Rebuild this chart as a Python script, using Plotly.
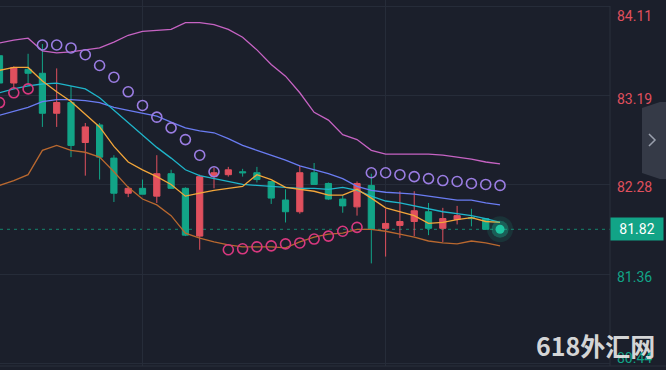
import plotly.graph_objects as go

# ---------------- data ----------------
bar_index = list(range(36))

opens = [83.60, 83.32, 83.46, 83.42, 83.01, 83.12, 82.71, 82.89, 82.55, 82.19,
         82.24, 82.16, 82.39, 82.24, 81.75, 82.36, 82.38, 82.41, 82.40, 82.31,
         82.12, 82.00, 82.40, 82.29, 82.13, 82.05, 82.27, 81.83, 81.86, 81.90,
         82.00, 81.83, 81.92, 81.94, 81.93, 81.82]
highs = [83.63, 83.49, 83.62, 83.72, 83.47, 83.29, 82.91, 82.91, 82.58, 82.26,
         82.33, 82.58, 82.43, 82.25, 82.38, 82.45, 82.46, 82.44, 82.46, 82.31,
         82.23, 82.47, 82.50, 82.30, 82.17, 82.31, 82.39, 82.03, 82.21, 82.21,
         82.09, 82.04, 82.06, 82.03, 81.93, 81.83]
lows = [83.29, 83.27, 83.30, 82.87, 82.87, 82.56, 82.37, 82.33, 82.10, 82.15,
        82.18, 82.09, 82.24, 81.75, 81.61, 82.24, 82.36, 82.36, 82.30, 82.08,
        81.89, 81.98, 82.28, 82.12, 81.99, 81.96, 81.47, 81.54, 81.73, 81.75,
        81.76, 81.69, 81.87, 81.85, 81.82, 81.81]
closes = [83.32, 83.48, 83.42, 83.01, 83.12, 82.68, 82.87, 82.56, 82.19, 82.24,
          82.18, 82.39, 82.24, 81.76, 82.36, 82.40, 82.43, 82.40, 82.33, 82.14,
          82.00, 82.40, 82.28, 82.13, 82.06, 82.29, 81.82, 81.88, 81.90, 82.01,
          81.83, 81.93, 81.96, 81.93, 81.82, 81.82]

boll_upper = [83.73, 83.76, 83.78, 83.65, 83.63, 83.64, 83.66, 83.68, 83.74, 83.81,
              83.85, 83.86, 83.87, 83.94, 83.94, 83.92, 83.87, 83.79, 83.66, 83.51,
              83.39, 83.22, 83.02, 82.94, 82.79, 82.74, 82.63, 82.59, 82.59, 82.59,
              82.59, 82.58, 82.56, 82.54, 82.51, 82.49]
boll_lower = [82.27, 82.32, 82.38, 82.63, 82.68, 82.63, 82.61, 82.56, 82.41, 82.25,
              82.13, 82.07, 81.96, 81.78, 81.73, 81.69, 81.66, 81.64, 81.64, 81.64,
              81.63, 81.69, 81.74, 81.77, 81.78, 81.82, 81.82, 81.80, 81.77, 81.74,
              81.70, 81.68, 81.67, 81.70, 81.68, 81.65]
ma20 = [82.99, 83.03, 83.07, 83.13, 83.15, 83.15, 83.14, 83.12, 83.07, 83.04,
        83.01, 82.98, 82.92, 82.86, 82.83, 82.81, 82.75, 82.68, 82.63, 82.58,
        82.53, 82.47, 82.43, 82.39, 82.34, 82.26, 82.22, 82.20, 82.19, 82.18,
        82.16, 82.14, 82.12, 82.12, 82.09, 82.07]
ma10 = [83.22, 83.26, 83.29, 83.31, 83.32, 83.29, 83.26, 83.17, 83.04, 82.92,
        82.78, 82.66, 82.55, 82.43, 82.37, 82.34, 82.31, 82.28, 82.27, 82.26,
        82.25, 82.24, 82.24, 82.23, 82.25, 82.22, 82.16, 82.11, 82.09, 82.06,
        82.03, 82.00, 81.98, 81.96, 81.93, 81.89]
ma5 = [83.45, 83.48, 83.48, 83.34, 83.23, 83.13, 83.00, 82.87, 82.67, 82.51,
       82.43, 82.36, 82.28, 82.16, 82.19, 82.22, 82.24, 82.26, 82.38, 82.33,
       82.25, 82.23, 82.21, 82.17, 82.17, 82.23, 82.14, 82.04, 82.00, 81.96,
       81.88, 81.89, 81.92, 81.94, 81.90, 81.89]
sar = [83.12, 83.22, 83.26, 83.71, 83.71, 83.68, 83.61, 83.50, 83.38, 83.23,
       83.09, 82.97, 82.86, 82.74, 82.58, 82.41, 81.61, 81.62, 81.64, 81.65,
       81.67, 81.68, 81.72, 81.75, 81.80, 81.84, 82.40, 82.40, 82.38, 82.36,
       82.34, 82.32, 82.31, 82.29, 82.28, 82.27]

tick_prices = [84.11, 83.19, 82.28, 81.36, 80.44]
tick_labels = ["84.11", "83.19", "82.28", "81.36", "80.44"]
grid_bars = [10, 27]
last_price = 81.82
watermark = "618外汇网"

# ---------------- styles ----------------
BG = "#1b1f2b"
GRID = "#262c39"
UP = "#e0505e"
DOWN = "#12a487"
FONT = "Roboto"

fig = go.Figure()

fig.add_trace(go.Candlestick(
    x=bar_index, open=opens, high=highs, low=lows, close=closes,
    increasing=dict(line=dict(color=UP, width=1), fillcolor=UP),
    decreasing=dict(line=dict(color=DOWN, width=1), fillcolor=DOWN),
    whiskerwidth=0, hoverinfo="skip", showlegend=False))

for ys, col in [(boll_upper, "#c663c3"), (boll_lower, "#b9682f"),
                (ma20, "#6a7cf2"), (ma10, "#1fb5ca"), (ma5, "#f3a63a")]:
    fig.add_trace(go.Scatter(x=bar_index, y=ys, mode="lines",
                             line=dict(color=col, width=1.3),
                             hoverinfo="skip", showlegend=False))

sar_above = [s if s > (h + l) / 2 else None for s, h, l in zip(sar, highs, lows)]
sar_below = [s if s <= (h + l) / 2 else None for s, h, l in zip(sar, highs, lows)]
fig.add_trace(go.Scatter(x=bar_index, y=sar_above, mode="markers",
                         marker=dict(symbol="circle-open", size=10, color="#9b7de3",
                                     line=dict(width=1.6)),
                         hoverinfo="skip", showlegend=False))
fig.add_trace(go.Scatter(x=bar_index, y=sar_below, mode="markers",
                         marker=dict(symbol="circle-open", size=10, color="#d8387f",
                                     line=dict(width=1.6)),
                         hoverinfo="skip", showlegend=False))

# live-price glow dot
last_x = bar_index[-1]
for sz, col in [(26, "rgba(25,200,160,0.12)"), (17, "rgba(25,200,160,0.30)"),
                (9, "#1fc6a2")]:
    fig.add_trace(go.Scatter(x=[last_x], y=[last_price], mode="markers",
                             marker=dict(size=sz, color=col, line=dict(width=0)),
                             hoverinfo="skip", showlegend=False))

shapes = [
    dict(type="line", xref="paper", yref="y", x0=0, x1=1, y0=last_price, y1=last_price,
         line=dict(color="#15705f", width=1.3, dash="3px,4px"), layer="below"),
    dict(type="line", xref="paper", yref="paper", x0=1, x1=1, y0=0, y1=0.9836,
         line=dict(color="#2a303d", width=1)),
    dict(type="line", xref="paper", yref="paper", x0=0, x1=1.0918, y0=0, y1=0,
         line=dict(color="#2a303d", width=1)),
    dict(type="path", xref="paper", yref="paper",
         path="M 1.05246 0.70492 L 1.08197 0.72131 L 1.0918 0.72131 L 1.0918 0.51093 "
              "L 1.08197 0.51093 L 1.05246 0.52732 Z",
         fillcolor="#353a47", line=dict(width=0)),
    dict(type="path", xref="paper", yref="paper",
         path="M 1.0639 0.6339 L 1.0738 0.6175 L 1.0639 0.6011",
         line=dict(color="#9aa0ad", width=1.5)),
]

annotations = []
n = len(tick_prices)
for i, (p, t) in enumerate(zip(tick_prices, tick_labels)):
    ys = -3
    if i == 0:
        ys = -10
    elif i == n - 1:
        ys = 6
    annotations.append(dict(
        x=1, xref="paper", y=p, yref="y", xanchor="left", yanchor="middle",
        xshift=5, yshift=ys, text=t, showarrow=False,
        font=dict(family=FONT, size=14, color=UP if p > last_price else DOWN)))

annotations.append(dict(
    x=1, xref="paper", y=last_price, yref="y", xanchor="left", yanchor="middle",
    text=f"{last_price:.2f}", showarrow=False, bgcolor=DOWN, width=48, height=18,
    borderpad=2, font=dict(family=FONT, size=14, color="#ffffff")))

annotations.append(dict(
    x=0.977, xref="paper", y=0.057, yref="paper", xanchor="center", yanchor="middle",
    text=f"<b>{watermark}</b>", showarrow=False,
    font=dict(family="Noto Sans CJK SC", size=25, color="rgba(232,232,232,0.92)")))

fig.update_layout(
    width=666, height=370,
    margin=dict(l=0, r=56, t=0, b=4),
    paper_bgcolor=BG, plot_bgcolor=BG,
    showlegend=False, hovermode=False,
    boxgap=0.38,
    shapes=shapes, annotations=annotations,
    xaxis=dict(range=[0.035, 42.69], tickvals=grid_bars, showticklabels=False,
               showgrid=True, gridcolor=GRID, gridwidth=1, zeroline=False,
               showline=False, rangeslider=dict(visible=False), fixedrange=True),
    yaxis=dict(range=[80.418, 84.1715], tickvals=tick_prices, showticklabels=False,
               showgrid=True, gridcolor=GRID, gridwidth=1, zeroline=False,
               showline=False, fixedrange=True),
)

fig.write_html("out.html", config={"displayModeBar": False},
               post_script="document.body.style.margin='0';"
                           "document.body.style.background='#1b1f2b';")
